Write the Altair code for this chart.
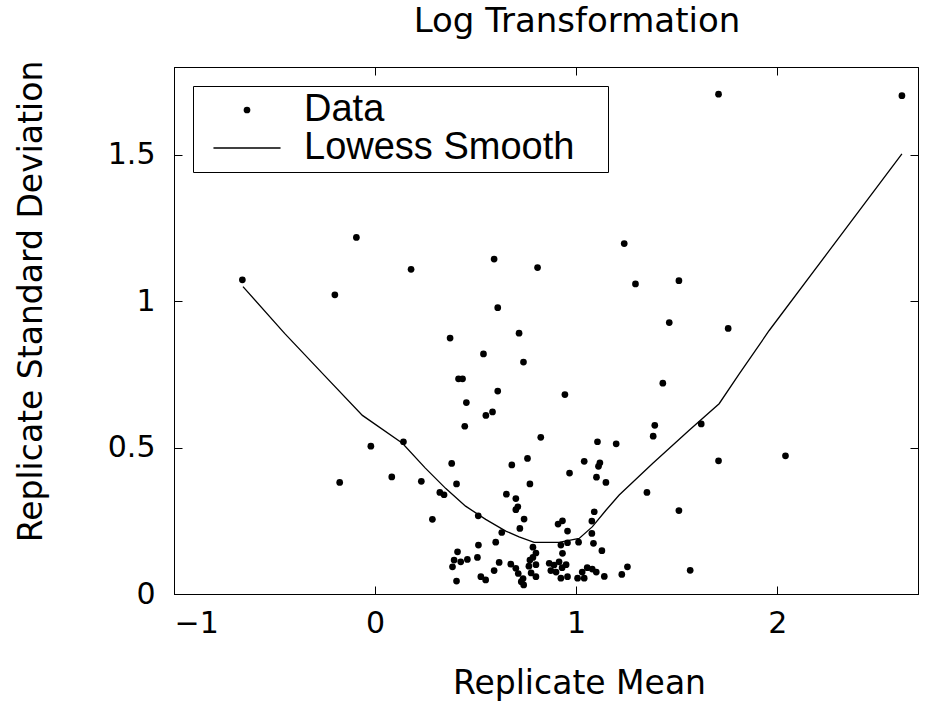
import altair as alt
import pandas as pd

# ---- data ----
mean_vals = [
    -0.66, -0.20, -0.093, 0.179, 0.592, 0.61, 0.808, 0.373, 0.716, 1.708,
    2.62, 1.239, 1.295, 1.511, 1.463, 1.756, 0.539, 0.738, 0.415, 0.435,
    0.61, 0.454, 0.551, 0.584, 0.446, 0.824, -0.021, 0.141, -0.176, 0.083,
    0.23, 0.381, 0.405, 0.758, 0.68, 0.77, 0.322, 0.343, 0.285, 0.653,
    0.70, 0.71, 0.70, 0.741, 0.72, 0.513, 0.63, 0.60, 0.514, 0.785,
    0.80, 0.785, 0.41, 0.393, 0.426, 0.459, 0.509, 0.385, 0.617, 0.592,
    0.675, 0.70, 0.712, 0.736, 0.727, 0.739, 0.77, 0.765, 0.776, 0.405,
    0.526, 0.55, 0.80, 0.944, 1.431, 1.391, 1.383, 1.622, 1.106, 1.199,
    1.04, 1.118, 1.111, 0.967, 1.101, 1.148, 1.708, 2.041, 1.352, 1.511,
    1.567, 1.09, 1.078, 0.91, 0.932, 0.957, 1.078, 1.012, 0.957, 0.924,
    1.086, 1.128, 0.932, 0.80, 0.866, 0.89, 0.915, 0.874, 0.90, 0.93,
    0.95, 0.924, 0.957, 1.007, 1.03, 1.055, 1.08, 1.10, 1.14, 1.04,
    1.227, 1.255,
]
sd_vals = [
    1.073, 1.022, 1.218, 1.109, 1.144, 0.978, 1.115, 0.874, 0.891, 1.707,
    1.702, 1.197, 1.059, 1.07, 0.927, 0.907, 0.82, 0.792, 0.735, 0.735,
    0.693, 0.654, 0.61, 0.622, 0.573, 0.535, 0.505, 0.52, 0.381, 0.40,
    0.385, 0.446, 0.376, 0.463, 0.441, 0.376, 0.347, 0.339, 0.255, 0.341,
    0.326, 0.298, 0.288, 0.256, 0.224, 0.267, 0.21, 0.177, 0.167, 0.16,
    0.14, 0.125, 0.144, 0.116, 0.11, 0.118, 0.125, 0.093, 0.108, 0.08,
    0.102, 0.088, 0.07, 0.053, 0.042, 0.031, 0.116, 0.095, 0.072, 0.044,
    0.059, 0.048, 0.059, 0.681, 0.72, 0.576, 0.539, 0.581, 0.52, 0.513,
    0.453, 0.448, 0.436, 0.413, 0.399, 0.381, 0.455, 0.472, 0.347, 0.285,
    0.081, 0.281, 0.249, 0.239, 0.25, 0.215, 0.207, 0.177, 0.175, 0.167,
    0.173, 0.148, 0.139, 0.10, 0.105, 0.099, 0.11, 0.08, 0.075, 0.09,
    0.10, 0.054, 0.059, 0.054, 0.075, 0.09, 0.085, 0.075, 0.06, 0.054,
    0.067, 0.093,
]
lowess_x = [-0.657, -0.45, -0.25, -0.063, 0.136, 0.25, 0.352, 0.45, 0.55,
            0.65, 0.716, 0.791, 0.915, 1.015, 1.081, 1.148, 1.214, 1.38,
            1.562, 1.711, 1.811, 1.96, 2.308, 2.62]
lowess_y = [1.05, 0.89, 0.745, 0.61, 0.515, 0.43, 0.36, 0.30, 0.255,
            0.215, 0.195, 0.176, 0.176, 0.19, 0.23, 0.286, 0.338, 0.446,
            0.559, 0.65, 0.752, 0.90, 1.218, 1.503]

series_names = ["Data", "Lowess Smooth"]
x_ticks = [-1, 0, 1, 2]
y_ticks = [0, 0.5, 1, 1.5]

pts = pd.DataFrame({"mean": mean_vals, "sd": sd_vals, "series": series_names[0]})
smooth = pd.DataFrame({"mean": lowess_x, "sd": lowess_y})

FONT = "DejaVu Sans"
x_scale = alt.Scale(domain=[-1, 2.7], nice=False, zero=False)
y_scale = alt.Scale(domain=[0, 1.8], nice=False, zero=False)
inward = {"expr": "-8"}

points = alt.Chart(pts).mark_point(
    filled=True, color="black", size=45, opacity=1
).encode(
    x=alt.X("mean:Q", scale=x_scale,
            axis=alt.Axis(orient="bottom", values=x_ticks, format="~f",
                          title="Replicate Mean", titleX=405, titleY=99,
                          titleAlign="center", titleBaseline="alphabetic",
                          labelPadding=22)),
    y=alt.Y("sd:Q", scale=y_scale,
            axis=alt.Axis(orient="left", values=y_ticks, format="~f",
                          title="Replicate Standard Deviation", titleAngle=270,
                          titleX=-133, titleY=234, titleAlign="center",
                          titleBaseline="alphabetic", labelPadding=27)),
    shape=alt.Shape("series:N",
                    scale=alt.Scale(domain=series_names,
                                    range=["circle", "M-10,-0.2H10V0.2H-10Z"]),
                    legend=alt.Legend(orient="none", legendX=19, legendY=19, title=None,
                                      labelFont="Liberation Sans", labelFontSize=38,
                                      labelColor="black", labelLimit=600,
                                      symbolSize=45, symbolFillColor="black",
                                      strokeColor="black", fillColor="white",
                                      padding=5, rowPadding=0,
                                      symbolOffset=30, labelOffset=38,
                                      labelExpr="datum.label + '\u2800'")),
)

line = alt.Chart(smooth).mark_line(color="black", strokeWidth=1.3).encode(
    x=alt.X("mean:Q", scale=x_scale,
            axis=alt.Axis(orient="top", values=x_ticks, labels=False, title=None)),
    y=alt.Y("sd:Q", scale=y_scale,
            axis=alt.Axis(orient="right", values=y_ticks, labels=False, title=None)),
)

chart = alt.layer(points, line).resolve_axis(
    x="independent", y="independent"
).properties(
    width=744, height=527,
    title=alt.TitleParams("Log Transformation", font=FONT, fontSize=34,
                          fontWeight="normal", color="black", anchor="middle",
                          frame="group", dx=31, offset=-6, baseline="alphabetic"),
    autosize=alt.AutoSizeParams(type="none"),
    padding={"left": 174, "top": 67, "right": 12, "bottom": 117},
).configure_view(
    stroke="black", strokeWidth=1
).configure_axis(
    grid=False, domainColor="black", domainWidth=1, tickColor="black", tickWidth=1,
    tickSize=inward, labelFont=FONT, labelFontSize=30, labelColor="black",
    titleFont=FONT, titleFontSize=33, titleFontWeight="normal", titleColor="black",
)

chart.save("out.html", embed_options={"renderer": "svg", "actions": False})
